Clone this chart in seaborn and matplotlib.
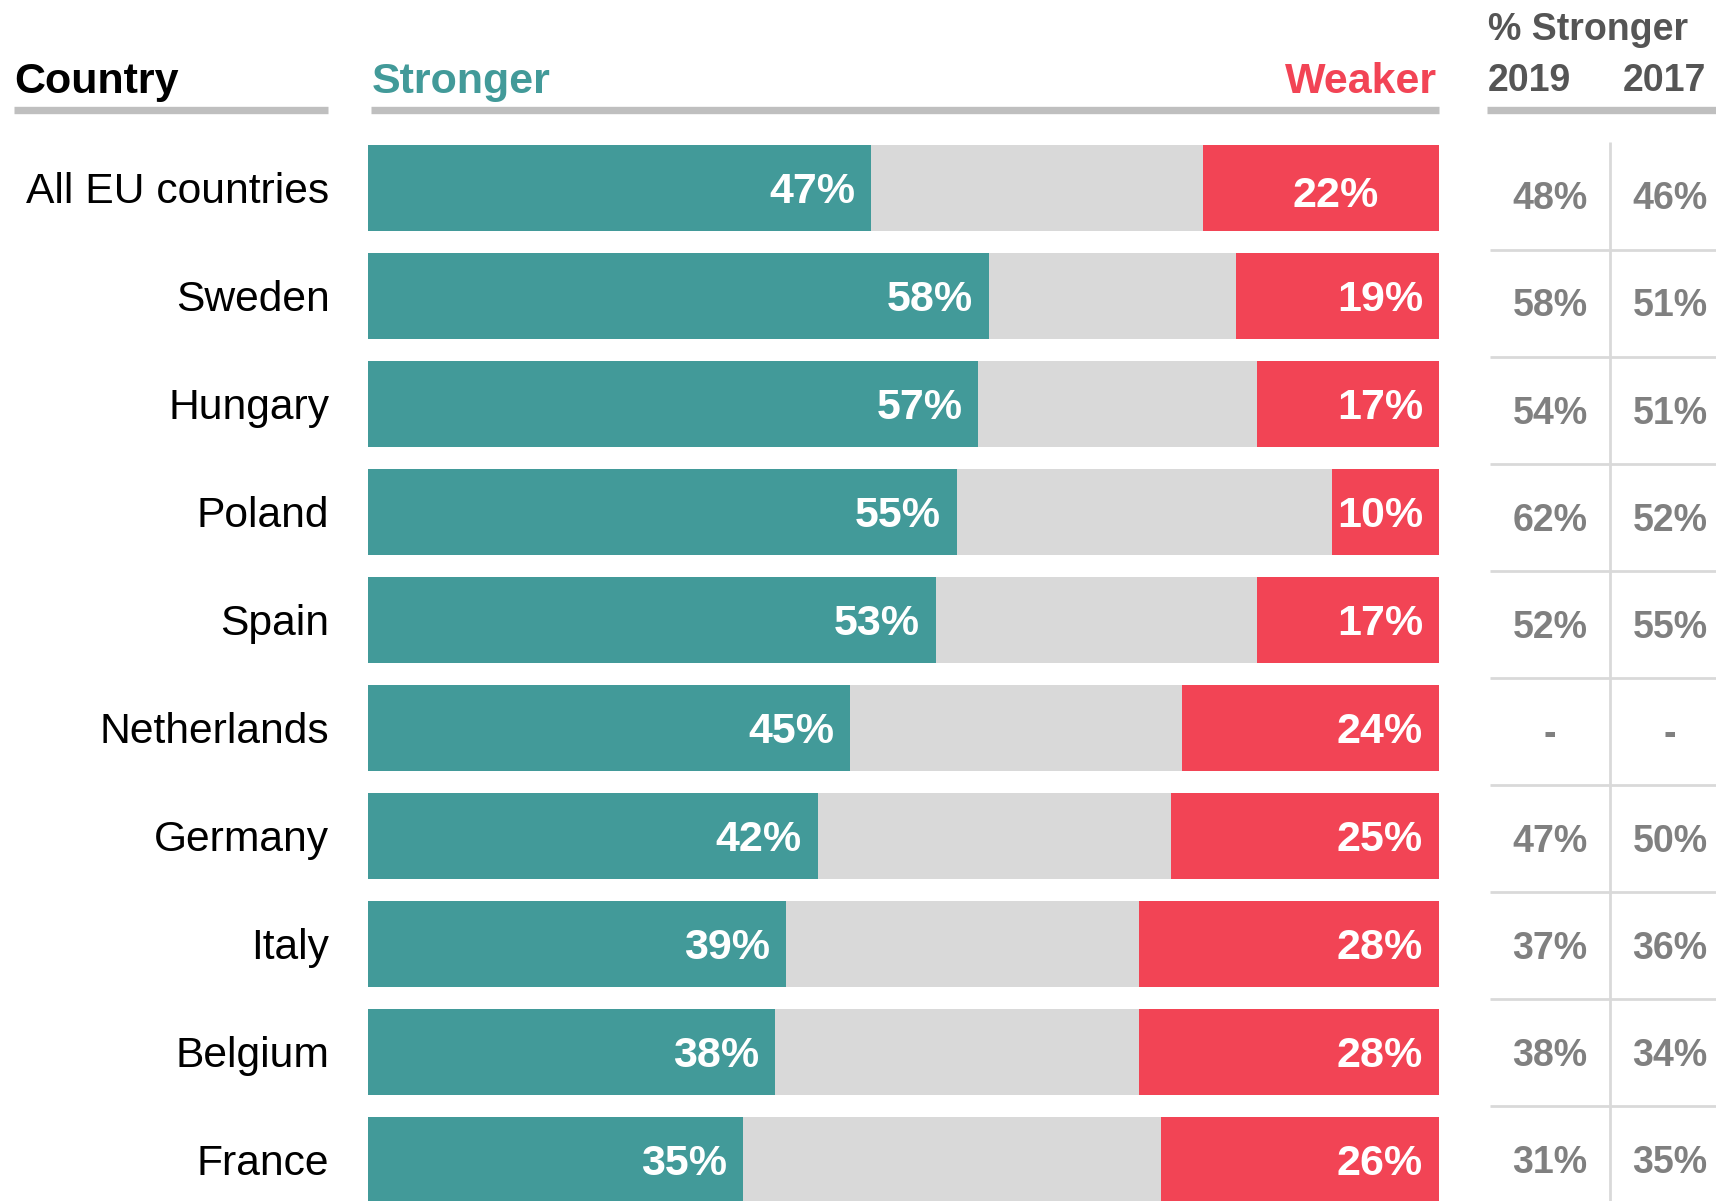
import matplotlib
matplotlib.use("Agg")
import numpy as np
import pandas as pd
import seaborn as sns
import matplotlib.pyplot as plt
from matplotlib.transforms import offset_copy
from matplotlib.lines import Line2D

# ---------------- data ----------------
countries = ["All EU countries", "Sweden", "Hungary", "Poland", "Spain",
             "Netherlands", "Germany", "Italy", "Belgium", "France"]
stronger = [47, 58, 57, 55, 53, 45, 42, 39, 38, 35]
weaker = [22, 19, 17, 10, 17, 24, 25, 28, 28, 26]
stronger_2019 = [48, 58, 54, 62, 52, None, 47, 37, 38, 31]
stronger_2017 = [46, 51, 51, 52, 55, None, 50, 36, 34, 35]
table_years = ["2019", "2017"]

# ---------------- styles ----------------
TEAL = "#429A99"
RED = "#F24455"
GREY = "#D9D9D9"
RULE = "#BFBFBF"
TABLE_LINE = "#D9D9D9"
TABLE_TXT = "#808080"
HEAD_TXT = "#555555"
weaker_label_dx = [5.6, 1.5, 1.5, 1.5, 1.5, 1.5, 1.5, 1.5, 1.5, 1.5]
weaker_label_dy = [0.03, 0, 0, 0, 0, 0, 0, 0, 0, 0]

sns.set_theme(style="white")
plt.rcParams["font.family"] = ["Liberation Sans", "DejaVu Sans"]

W, H = 1716, 1201
fig = plt.figure(figsize=(W / 100, H / 100), dpi=100)
fig.patch.set_facecolor("white")

# main bar axes: x in percent units, y in row units
PX0, PXU = 368.0, 10.71
RY0, RP = 188.0, 107.97
ax = fig.add_axes([0, 0, 1, 1])
ax.patch.set_alpha(0)

df = pd.DataFrame({"country": countries, "stronger": stronger, "weaker": weaker})
df["full"] = 100
df["not_weaker"] = 100 - df["weaker"]

sns.barplot(data=df, y="country", x="full", orient="h", color=RED, saturation=1,
            width=0.8, linewidth=0, errorbar=None, ax=ax)
sns.barplot(data=df, y="country", x="not_weaker", orient="h", color=GREY, saturation=1,
            width=0.8, linewidth=0, errorbar=None, ax=ax)
sns.barplot(data=df, y="country", x="stronger", orient="h", color=TEAL, saturation=1,
            width=0.8, linewidth=0, errorbar=None, ax=ax)

ax.set_xlim(-PX0 / PXU, (W - PX0) / PXU)
ax.set_ylim((H - RY0) / RP, -RY0 / RP)
ax.axis("off")


def ctext(a, x, y, s, size, **kw):
    tr = offset_copy(a.transData, fig=fig, x=0, y=-0.358 * size, units="points")
    a.text(x, y, s, transform=tr, va="baseline", fontsize=size, **kw)


BIG = 31
LABEL = 30.7
for i, (c, s, w) in enumerate(zip(countries, stronger, weaker)):
    ctext(ax, -3.6, i, c, LABEL, ha="right", color="black")
    ctext(ax, s - 1.5, i, f"{s}%", BIG, ha="right", color="white", fontweight="bold")
    ctext(ax, 100 - weaker_label_dx[i], i + weaker_label_dy[i], f"{w}%", BIG,
          ha="right", color="white", fontweight="bold")

# table axes: x in column units, y in table-row units
T_X0, T_XP = 1550.0, 120.0
T_Y0, T_YP = 196.0, 107.06
tax = fig.add_axes([0, 0, 1, 1])
tax.patch.set_alpha(0)
xmin, xmax = -T_X0 / T_XP, (W - T_X0) / T_XP
ybot, ytop = (H - T_Y0) / T_YP, -T_Y0 / T_YP
tax.set_xlim(xmin, xmax)
tax.set_ylim(ybot, ytop)
tax.axis("off")

tax.plot([0.5, 0.5], [-0.5, ybot], color=TABLE_LINE, lw=2, solid_capstyle="butt")
for k in range(len(countries) - 1):
    tax.plot([-0.5, xmax], [k + 0.5, k + 0.5], color=TABLE_LINE, lw=2,
             solid_capstyle="butt")

SMALL = 27
for col, vals in enumerate([stronger_2019, stronger_2017]):
    for k, v in enumerate(vals):
        txt = f"{v}%" if v is not None else "-"
        ctext(tax, col, k, txt, SMALL, ha="center", color=TABLE_TXT, fontweight="bold")


# headers
def ftext(px, py, s, **kw):
    fig.text(px / W, 1 - py / H, s, va="baseline", **kw)


ftext(14, 93, "Country", fontsize=BIG, fontweight="bold", color="black", ha="left")
ftext(372, 93, "Stronger", fontsize=BIG, fontweight="bold", color=TEAL, ha="left")
ftext(1437, 93, "Weaker", fontsize=BIG, fontweight="bold", color=RED, ha="right")
ftext(1488, 40.5, "% Stronger", fontsize=SMALL, fontweight="bold", color=HEAD_TXT, ha="left")
ftext(1488, 91, table_years[0], fontsize=SMALL, fontweight="bold", color=HEAD_TXT, ha="left")
ftext(1623, 91, table_years[1], fontsize=SMALL, fontweight="bold", color=HEAD_TXT, ha="left")

for x0, x1 in [(14, 328), (371, 1439), (1487, 1716)]:
    fig.add_artist(Line2D([x0 / W, x1 / W], [1 - 110.3 / H] * 2, lw=5.3, color=RULE,
                          solid_capstyle="butt", transform=fig.transFigure))

fig.savefig("out.png", dpi=100)
